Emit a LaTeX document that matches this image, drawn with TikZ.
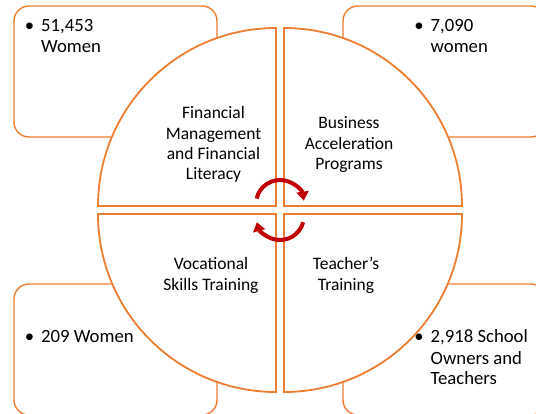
\documentclass[tikz,border=0pt]{standalone}
\usepackage{fontspec}
\setmainfont{Carlito}
\usetikzlibrary{arrows.meta}
\definecolor{accent}{HTML}{ED7D31}
\definecolor{cyclered}{HTML}{C00000}

\begin{document}
\begin{tikzpicture}[x=1pt,y=-1pt,
  infobox/.style={draw=accent, line width=1.4pt, fill=white, rounded corners=15pt,
    minimum width=203pt, minimum height=131pt, inner sep=0pt},
  quadrant/.style={draw=accent, line width=1.8pt, fill=white, line join=miter},
  hub/.style={font=\fontsize{17.5}{20.3}\selectfont, anchor=base, inner sep=0pt},
  fact/.style={font=\fontsize{18.7}{21}\selectfont, anchor=base west, inner sep=0pt},
  dot/.style={font=\fontsize{18.7}{21}\selectfont, anchor=base, inner sep=0pt},
  cyclearrow/.style={draw=cyclered, line width=4pt, -{Triangle[length=9pt,width=12pt]}}
]
\useasboundingbox (0,0) rectangle (536,414);
\clip (0,0) rectangle (536,414);

% outcome boxes behind the quadrants
\node[infobox] (boxtl) at (115.5,71.5) {};
\node[infobox] (boxtr) at (444.5,71.5) {};
\node[infobox] (boxbl) at (115.5,349.5) {};
\node[infobox] (boxbr) at (444.5,349.5) {};

% four quadrants of the circle
\draw[quadrant] (276,206) -- (98,206) arc[start angle=180, end angle=270, radius=178] -- cycle;
\draw[quadrant] (284,206) -- (284,28) arc[start angle=270, end angle=360, radius=178] -- cycle;
\draw[quadrant] (284,214) -- (462,214) arc[start angle=0, end angle=90, radius=178] -- cycle;
\draw[quadrant] (276,214) -- (276,392) arc[start angle=90, end angle=180, radius=178] -- cycle;

% quadrant labels
\node[hub] (fin) at (213.5,119) {\begin{tabular}[t]{@{}c@{}}Financial\\Management\\and Financial\\Literacy\end{tabular}};
\node[hub] (bus) at (349,129) {\begin{tabular}[t]{@{}c@{}}Business\\Acceleration\\Programs\end{tabular}};
\node[hub] (voc) at (211,270) {\begin{tabular}[t]{@{}c@{}}Vocational\\Skills Training\end{tabular}};
\node[hub] (tea) at (346,270) {\begin{tabular}[t]{@{}c@{}}Teacher’s\\Training\end{tabular}};

% bulleted figures
\node[dot] (dottl) at (29.5,32) {\textbullet};
\node[fact] (facttl) at (41,32) {\begin{tabular}[t]{@{}l@{}}51,453\\Women\end{tabular}};
\node[dot] (dottr) at (419,32) {\textbullet};
\node[fact] (facttr) at (430.5,32) {\begin{tabular}[t]{@{}l@{}}7,090\\women\end{tabular}};
\node[dot] (dotbl) at (29.5,343) {\textbullet};
\node[fact] (factbl) at (41,343) {209 Women};
\node[dot] (dotbr) at (419,343) {\textbullet};
\node[fact] (factbr) at (430.5,343) {\begin{tabular}[t]{@{}l@{}}2,918 School\\Owners and\\Teachers\end{tabular}};

% circular arrows in the middle
\coordinate (hub) at (280,210);
\draw[cyclearrow] (hub) ++(0,-6) ++(193:24) arc[start angle=193, end angle=352, radius=24];
\draw[cyclearrow] (hub) ++(0,6) ++(15:24) arc[start angle=15, end angle=165, radius=24];
\end{tikzpicture}
\end{document}
